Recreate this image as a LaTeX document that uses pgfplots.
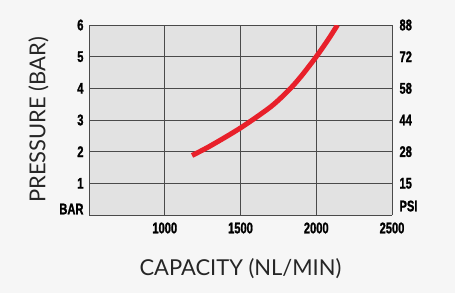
\documentclass[border=0pt]{standalone}
\usepackage{pgfplots}
\pgfplotsset{compat=1.18}
\usepackage{fontspec}
\setmainfont{Lato}
\newfontfamily\condfont[FakeStretch=0.72,FakeBold=1.2]{Liberation Sans}
\definecolor{bgc}{HTML}{F6F6F6}
\definecolor{plotc}{HTML}{E2E2E2}
\definecolor{gridc}{HTML}{4A4A4A}
\definecolor{curvec}{HTML}{E8202A}
\begin{document}
\begin{tikzpicture}[x=1bp,y=1bp]
\fill[bgc] (0,0) rectangle (455,293);
\useasboundingbox (0,0) rectangle (455,293);
\begin{axis}[
  at={(89bp,78bp)}, anchor=south west,
  scale only axis, width=303bp, height=190bp,
  xmin=500, xmax=2500, ymin=0, ymax=6,
  axis background/.style={fill=plotc},
  axis line style={gridc, line width=0.8pt},
  grid=major, grid style={gridc, line width=0.6pt},
  xtick={1000,1500,2000,2500},
  ytick={1,2,3,4,5,6},
  extra y ticks={0}, extra y tick labels={BAR},
  extra y tick style={yticklabel style={yshift=6bp}},
  tick style={draw=none},
  axis y line*=left, axis x line*=bottom,
  tick label style={font=\condfont\bfseries\fontsize{15.5}{15.5}\selectfont, text=black},
  /pgf/number format/assume math mode=true,
  /pgf/number format/1000 sep={},
  xticklabel style={yshift=-4bp},
  yticklabel style={xshift=-2bp},
  xlabel={CAPACITY (NL/MIN)},
  ylabel={PRESSURE (BAR)},
  label style={font=\fontsize{22}{22}\selectfont, text=black!85},
  xlabel style={yshift=-18bp},
  ylabel style={yshift=4bp},
]
\addplot[curvec, line width=5bp, smooth, line cap=butt] coordinates {
(1180,1.88) (1300,2.18) (1500,2.75) (1700,3.42) (1820,3.95) (1900,4.38) (2000,5.0) (2080,5.55) (2140,6.0)};
\end{axis}
\begin{axis}[
  at={(89bp,78bp)}, anchor=south west,
  scale only axis, width=303bp, height=190bp,
  xmin=500, xmax=2500, ymin=0, ymax=6,
  axis x line=none, axis y line*=right,
  axis line style={gridc, line width=0.8pt},
  ytick={1,2,3,4,5,6},
  yticklabels={15,28,44,58,72,88},
  extra y ticks={0}, extra y tick labels={PSI},
  extra y tick style={yticklabel style={yshift=9bp}},
  tick style={draw=none},
  tick label style={font=\condfont\bfseries\fontsize{15.5}{15.5}\selectfont, text=black},
  yticklabel style={xshift=4bp},
]
\end{axis}
\end{tikzpicture}
\end{document}
